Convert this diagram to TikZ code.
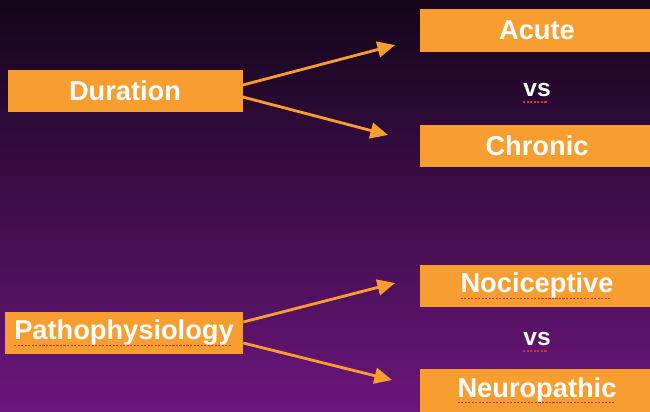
\documentclass[tikz,border=0pt]{standalone}
\usepackage{fontspec}
\setmainfont{Liberation Sans}
\usetikzlibrary{arrows.meta, positioning, calc}

\definecolor{boxorange}{HTML}{F89D30}
\definecolor{bgtop}{HTML}{13051A}
\definecolor{bgbottom}{HTML}{6B167C}
\definecolor{spellred}{HTML}{D8303A}

% dotted red mark under a word
\newcommand{\spellmark}[1]{\leavevmode\setbox0\hbox{#1}\rlap{\copy0}%
  \raisebox{-3.5pt}{\color{spellred}\hbox to \wd0{\leaders\hbox{\rule{1.2pt}{0.7pt}\hskip0.8pt}\hfill}}}

\tikzset{
  topic/.style={fill=boxorange, text=white, inner sep=0pt,
    minimum height=0.85cm, font=\fontsize{15.5}{18}\selectfont\bfseries},
  versus/.style={text=white, font=\fontsize{14}{16}\selectfont\bfseries},
  link/.style={draw=boxorange, line width=1.6pt,
    -{Triangle[length=10pt,width=9pt]}}
}

\begin{document}
\begin{tikzpicture}
% background
\useasboundingbox (0,0) rectangle (13,8.22);
\shade[top color=bgtop, bottom color=bgbottom] (0,0) rectangle (13,8.22);

% left topics
\node[topic, minimum width=4.7cm] (dur) at (2.5,6.40) {Duration};
\node[topic, minimum width=4.76cm] (patho) at (2.48,1.56) {\spellmark{Pathophysiology}};

% right topics
\node[topic, minimum width=4.68cm] (acute) at (10.74,7.61) {Acute};
\node[topic, minimum width=4.68cm] (chronic) at (10.74,5.30) {Chronic};
\node[topic, minimum width=4.68cm] (noci) at (10.74,2.50) {\spellmark{Nociceptive}};
\node[topic, minimum width=4.68cm] (neuro) at (10.74,0.41) {\spellmark{Neuropathic}};

\node[versus] (vs1) at (10.74,6.36) {\spellmark{vs}};
\node[versus] (vs2) at (10.74,1.38) {\spellmark{vs}};

% arrow ends
\coordinate (up1) at (7.9,7.32);
\coordinate (down1) at (7.76,5.52);
\coordinate (up2) at (7.9,2.56);
\coordinate (down2) at (7.84,0.62);

% arrows
\draw[link] ([yshift=1.2mm]dur.east) -- (up1);
\draw[link] ([yshift=-1.2mm]dur.east) -- (down1);
\draw[link] ([yshift=2.2mm]patho.east) -- (up2);
\draw[link] ([yshift=-2mm]patho.east) -- (down2);
\end{tikzpicture}
\end{document}
